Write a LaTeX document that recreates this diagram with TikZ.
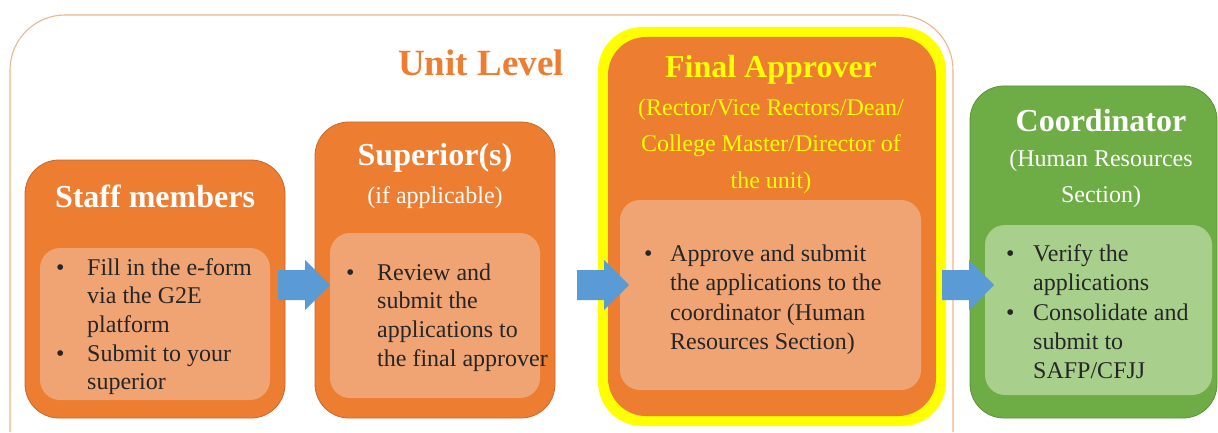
\documentclass[tikz,border=0pt]{standalone}
\usepackage{fontspec}
\setmainfont{Liberation Serif}
\newfontfamily\tnr{Liberation Serif}
\usetikzlibrary{positioning}
\definecolor{orng}{HTML}{ED7D31}
\definecolor{orngD}{HTML}{C8682A}
\definecolor{lorng}{HTML}{F1A473}
\definecolor{frameo}{HTML}{F2B48A}
\definecolor{grn}{HTML}{6EAD45}
\definecolor{grnD}{HTML}{5A9238}
\definecolor{lgrn}{HTML}{A8D08C}
\definecolor{ablue}{HTML}{5B9BD5}
\definecolor{yel}{HTML}{FFFF00}
\tikzset{
  stagebox/.style={rounded corners=34pt, fill=orng, draw=orngD, line width=0.8pt},
  innerbox/.style={rounded corners=20pt, fill=lorng},
  greenbox/.style={rounded corners=34pt, fill=grn, draw=grnD, line width=0.8pt},
  ginnerbox/.style={rounded corners=20pt, fill=lgrn},
  blockarrow/.style={fill=ablue},
  head/.style={font=\tnr\fontsize{32}{36}\selectfont\bfseries, inner sep=0pt},
  sub/.style={font=\tnr\fontsize{24}{36.3}\selectfont, inner sep=0pt, align=center},
  body/.style={font=\tnr\fontsize{24}{28.6}\selectfont, inner sep=0pt, anchor=north west, text=black!85},
  bodyb/.style={body, font=\tnr\fontsize{24}{29.2}\selectfont},
}
\newcommand{\barrow}[3]{% name, left x, center y
  \fill[blockarrow] (#2,#3-15) -- (#2+27,#3-15) -- (#2+27,#3-25) -- (#2+52,#3) -- (#2+27,#3+25) -- (#2+27,#3+15) -- (#2,#3+15) -- cycle;
  \coordinate (#1) at (#2+26,#3);}
\begin{document}
\begin{tikzpicture}[x=1pt,y=-1pt]
\useasboundingbox (0,0) rectangle (1218,433);
\fill[white] (0,0) rectangle (1218,433);
% outer unit level frame
\draw[frameo, line width=1.1pt, rounded corners=55pt] (10,432) -- (10,15) -- (953,15) -- (953,432);
\node[font=\tnr\fontsize{37}{42}\selectfont\bfseries, text=orng, inner sep=0pt] (unit) at (481,63) {Unit Level};

% Staff members
\draw[stagebox] (25,160) rectangle (285,418);
\fill[innerbox] (40,248) rectangle (270,400);
\node[head, text=white] (stafft) at (155,196) {Staff members};
\node[body] (staffb) at (56,255) {\begin{tabular}{@{}p{31pt}@{}l@{}}\textbullet & Fill in the e-form\\ & via the G2E\\ & platform\\ \textbullet & Submit to your\\ & superior\end{tabular}};

% Superior
\draw[stagebox] (315,122) rectangle (555,418);
\fill[innerbox] (330,233) rectangle (540,398);
\node[head, text=white] (supt) at (435,158) {Superior(s)};
\node[sub, text=white] (sups) at (435,198) {(if applicable)};
\node[body] (supb) at (346,260) {\begin{tabular}{@{}p{31pt}@{}l@{}}\textbullet & Review and\\ & submit the\\ & applications to\\ & the final approver\end{tabular}};

% Final approver
\fill[rounded corners=44pt, yel] (598,27) rectangle (946,426);
\fill[rounded corners=38pt, orng] (608,37) rectangle (936,416);
\fill[innerbox] (620,200) rectangle (921,390);
\node[head, text=yel] (fat) at (771,70) {Final Approver};
\node[sub, text=yel] (fas) at (771,146) {(Rector/Vice Rectors/Dean/\\College Master/Director of\\the unit)};
\node[bodyb] (fab) at (644,241) {\begin{tabular}{@{}p{26pt}@{}l@{}}\textbullet & Approve and submit\\ & the applications to the\\ & coordinator (Human\\ & Resources Section)\end{tabular}};

% Coordinator
\draw[greenbox] (970,86) rectangle (1217,418);
\fill[ginnerbox] (985,225) rectangle (1212,395);
\node[head, text=white] (cot) at (1101,121) {Coordinator};
\node[sub, text=white] (cos) at (1101,179) {(Human Resources\\Section)};
\node[bodyb] (cob) at (1006,241) {\begin{tabular}{@{}p{27pt}@{}l@{}}\textbullet & Verify the\\ & applications\\ \textbullet & Consolidate and\\ & submit to\\ & SAFP/CFJJ\end{tabular}};

% arrows
\barrow{a1}{278}{285}
\barrow{a2}{577}{285}
\barrow{a3}{942}{285}
\end{tikzpicture}
\end{document}
